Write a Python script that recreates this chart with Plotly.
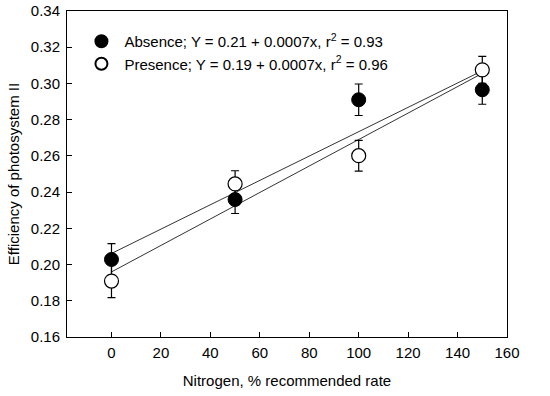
import numpy as np
import plotly.graph_objects as go

nitrogen = [0, 50, 100, 150]
absence = [0.2028, 0.2359, 0.2910, 0.2965]
absence_err = [0.0088, 0.0077, 0.0087, 0.0080]
presence = [0.1909, 0.2445, 0.2601, 0.3075]
presence_err = [0.0092, 0.0073, 0.0085, 0.0075]

absence_label = "Absence; Y = 0.21 + 0.0007x, r<sup>2</sup> = 0.93"
presence_label = "Presence; Y = 0.19 + 0.0007x, r<sup>2</sup> = 0.96"

xfit = np.array([min(nitrogen), max(nitrogen)], dtype=float)
fa = np.polyfit(nitrogen, absence, 1)
fp = np.polyfit(nitrogen, presence, 1)

fig = go.Figure()
for coefs in (fa, fp):
    fig.add_trace(go.Scatter(x=xfit, y=np.polyval(coefs, xfit), mode="lines",
                             line=dict(color="#333333", width=1), showlegend=False,
                             hoverinfo="skip"))

fig.add_trace(go.Scatter(
    x=nitrogen, y=absence, mode="markers", name=absence_label,
    error_y=dict(type="data", array=absence_err, color="black", thickness=1.2, width=4),
    marker=dict(size=14, color="black", line=dict(color="black", width=1))))
fig.add_trace(go.Scatter(
    x=nitrogen, y=presence, mode="markers", name=presence_label,
    error_y=dict(type="data", array=presence_err, color="black", thickness=1.2, width=4),
    marker=dict(size=14, color="white", line=dict(color="black", width=1.2))))

font = dict(family="Arial, Liberation Sans, sans-serif", size=15, color="black")
fig.update_layout(
    width=550, height=396,
    margin=dict(l=67, r=43, t=11, b=59),
    paper_bgcolor="white", plot_bgcolor="white",
    font=font,
    legend=dict(x=0.026, y=0.957, xanchor="left", yanchor="top",
                bgcolor="rgba(0,0,0,0)", font=dict(size=15), tracegroupgap=0,
                itemsizing="constant", itemwidth=36),
    xaxis=dict(range=[-18, 160], tickvals=[0, 20, 40, 60, 80, 100, 120, 140, 160],
               ticks="inside", ticklen=5, tickcolor="black",
               showline=True, linecolor="black", linewidth=1, mirror=True,
               showgrid=False, zeroline=False, tickfont=dict(size=15),
               ticklabelstandoff=2, automargin=False, ticklabeloverflow="allow",
               title=dict(text="Nitrogen, % recommended rate", standoff=15, font=dict(size=15))),
    yaxis=dict(range=[0.16, 0.34], dtick=0.02, tickformat=".2f",
               ticks="inside", ticklen=5, tickcolor="black",
               showline=True, linecolor="black", linewidth=1, mirror=True,
               showgrid=False, zeroline=False, tickfont=dict(size=15),
               ticklabelstandoff=3, automargin=False, ticklabeloverflow="allow",
               title=dict(text="Efficiency of photosystem II", standoff=7, font=dict(size=15))),
)

fig.write_html("out.html", config={"displayModeBar": False},
               post_script="document.body.style.margin='0';")
